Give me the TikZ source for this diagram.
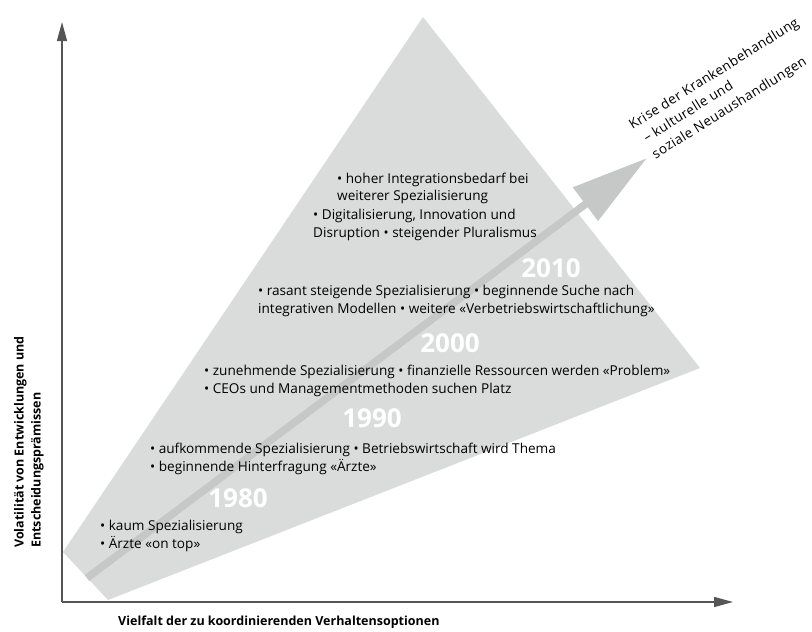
\documentclass[tikz,border=0pt]{standalone}
\usepackage{fontspec}
\setmainfont{Open Sans}
\newfontfamily\spacedfont[LetterSpace=3]{Open Sans}
\usetikzlibrary{arrows.meta,positioning}

\definecolor{fangray}{HTML}{DADBDB}
\definecolor{trendgray}{HTML}{C6C7C7}
\definecolor{axisgray}{HTML}{555555}

\begin{document}
\begin{tikzpicture}[x=1pt, y=-1pt,
  axis/.style={draw=axisgray, line width=1.4pt, -{Triangle[length=19pt,width=10pt]}},
  trend/.style={draw=trendgray, line width=7.5pt, -{Triangle[length=77pt,width=40pt]}},
  item/.style={anchor=west, align=left, inner sep=0pt, font=\fontsize{13.6}{17.5}\selectfont},
  year/.style={inner sep=0pt, text=white, font=\fontsize{26}{26}\selectfont\bfseries},
  axislabel/.style={inner sep=0pt, align=left, font=\fontsize{12.5}{17}\selectfont\bfseries}]

  \useasboundingbox (0,0) rectangle (812,632);

  \coordinate (origin) at (62,602);
  \coordinate (ytop)   at (62,22);
  \coordinate (xend)   at (733,602);
  \coordinate (apex)   at (423,17);
  \coordinate (right)  at (700,368);
  \coordinate (bottom) at (108,600);
  \coordinate (left)   at (63,552);
  \coordinate (start)  at (87,578);
  \coordinate (tip)    at (647,158);

  \fill[fangray] (apex) -- (right) -- (bottom) -- (left) -- cycle;
  \draw[trend] (start) -- (tip);

  \draw[axis] (origin) -- (ytop);
  \draw[axis] (origin) -- (xend);

  \node[year] (y1980) at (238,498) {1980};
  \node[year] (y1990) at (372,418) {1990};
  \node[year] (y2000) at (450,343) {2000};
  \node[year] (y2010) at (551,268) {2010};

  \node[item] (t1980) at (100,536) {• kaum Spezialisierung\\• Ärzte «on top»};
  \node[item] (t1990) at (150,459) {• aufkommende Spezialisierung • Betriebswirtschaft wird Thema\\• beginnende Hinterfragung «Ärzte»};
  \node[item] (t2000) at (204,381) {• zunehmende Spezialisierung • finanzielle Ressourcen werden «Problem»\\• CEOs und Managementmethoden suchen Platz};
  \node[item] (t2010) at (258,301) {• rasant steigende Spezialisierung • beginnende Suche nach\\integrativen Modellen • weitere «Verbetriebswirtschaftlichung»};
  \node[item] (integration) at (337,188.5) {• hoher Integrationsbedarf bei\\weiterer Spezialisierung};
  \node[item] (digital) at (313,225) {• Digitalisierung, Innovation und\\Disruption • steigender Pluralismus};

  \node[inner sep=0pt, anchor=north west, rotate=32, align=left,
        font=\fontsize{13.5}{18.5}\spacedfont] (crisis) at (627,121)
        {Krise der Krankenbehandlung\\\hspace{5pt}– kulturelle und\\\hspace{4pt}soziale Neuaushandlungen};

  \node[axislabel, anchor=west] (xlabel) at (118,622) {Vielfalt der zu koordinierenden Verhaltensoptionen};
  \node[axislabel, anchor=north west, rotate=90] (ylabel) at (14,548) {Volatilität von Entwicklungen und\\Entscheidungsprämissen};

\end{tikzpicture}
\end{document}
